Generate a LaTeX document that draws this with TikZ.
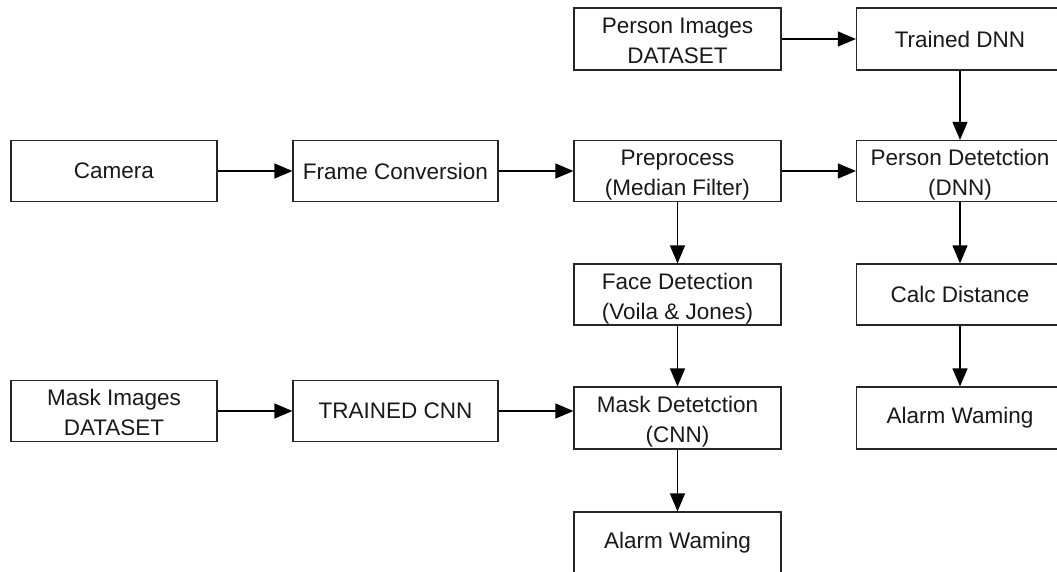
\documentclass[tikz,border=0pt]{standalone}
\usepackage{fontspec}
\setmainfont{Liberation Sans}
\usetikzlibrary{arrows.meta}
\newcommand\twolines[2]{\raisebox{-3.5pt}[\height][\depth]{\begin{tabular}{@{}c@{}}#1\\#2\end{tabular}}}
\begin{document}
\begin{tikzpicture}[x=1pt,y=-1pt,
  blk/.style={draw=black!85, line width=1.2pt, fill=white, inner sep=0pt, align=center,
    font=\fontsize{22.5}{30}\selectfont, text=black!90},
  arr/.style={draw=black, line width=1.2pt, -{Triangle[length=18pt,width=15pt]}}]
\useasboundingbox (0,0) rectangle (1057,571);
\clip (0,0) rectangle (1057,571);
\fill[white] (0,0) rectangle (1057,571);
% column 1
\node[blk, minimum width=206pt, minimum height=61pt] (cam) at (114,171) {Camera};
\node[blk, minimum width=206pt, minimum height=61pt] (mimg) at (114,411) {\twolines{Mask Images}{DATASET}};
% column 2
\node[blk, minimum width=205pt, minimum height=61pt] (fc) at (395.5,171) {Frame Conversion};
\node[blk, minimum width=205pt, minimum height=61pt] (tcnn) at (395.5,411) {TRAINED CNN};
% column 3
\node[blk, minimum width=207pt, minimum height=62pt] (pid) at (677.5,39) {\twolines{Person Images}{DATASET}};
\node[blk, minimum width=207pt, minimum height=61pt] (pre) at (677.5,171) {\twolines{Preprocess}{(Median Filter)}};
\node[blk, minimum width=207pt, minimum height=61pt] (face) at (677.5,294.5) {\twolines{Face Detection}{(Voila \& Jones)}};
\node[blk, minimum width=207pt, minimum height=62pt] (mdet) at (677.5,418) {\twolines{Mask Detetction}{(CNN)}};
\node[blk, minimum width=207pt, minimum height=62pt] (al1) at (677.5,543) {Alarm Waming};
% column 4
\node[blk, minimum width=207pt, minimum height=62pt] (tdnn) at (960,39) {Trained DNN};
\node[blk, minimum width=207pt, minimum height=61pt] (pdet) at (960,171) {\twolines{Person Detetction}{(DNN)}};
\node[blk, minimum width=207pt, minimum height=61pt] (calc) at (960,294.5) {Calc Distance};
\node[blk, minimum width=207pt, minimum height=62pt] (al2) at (960,418) {Alarm Waming};
% connectors
\draw[arr] (cam) -- (fc);
\draw[arr] (fc) -- (pre);
\draw[arr] (pre) -- (pdet);
\draw[arr] (pid) -- (tdnn);
\draw[arr] (tdnn) -- (pdet);
\draw[arr] (pdet) -- (calc);
\draw[arr] (calc) -- (al2);
\draw[arr] (pre) -- (face);
\draw[arr] (face) -- (mdet);
\draw[arr] (mdet) -- (al1);
\draw[arr] (mimg) -- (tcnn);
\draw[arr] (tcnn.east) -- (tcnn.east -| mdet.west);
\end{tikzpicture}
\end{document}
